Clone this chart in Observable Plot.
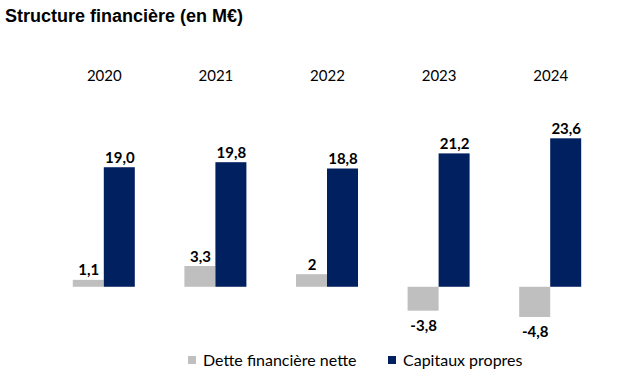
<!DOCTYPE html>
<html><head><meta charset="utf-8">
<script src="https://cdn.jsdelivr.net/npm/d3@7"></script>
<script src="https://cdn.jsdelivr.net/npm/@observablehq/plot@0.6"></script>
<style>
body{margin:0;background:#fff;width:640px;height:381px;position:relative;overflow:hidden}
#title{position:absolute;left:5px;top:6px;font:bold 18px "Liberation Sans",Arial,sans-serif;color:#000;white-space:nowrap}
#chart{position:absolute;left:0;top:30px}
.sw{position:absolute;width:8px;height:8px;top:356px}
.lt{position:absolute;top:350px;font:16px Lato,sans-serif;line-height:19px;color:#000;white-space:nowrap}
</style></head>
<body>
<div id="title">Structure financière (en M€)</div>
<div id="chart"></div>
<div id="legend"></div>
<script>
const years = ["2020","2021","2022","2023","2024"];
const series = ["Dette financière nette","Capitaux propres"];
const dette = [1.1, 3.3, 2, -3.8, -4.8];
const capitaux = [19.0, 19.8, 18.8, 21.2, 23.6];
const colors = ["#BFBFBF","#002060"];

const fmtD = v => String(v).replace(".", ",");
const fmtC = v => v.toFixed(1).replace(".", ",");
const data = [];
years.forEach((y,i)=>{
  data.push({year:y, series:series[0], value:dette[i], label:fmtD(dette[i])});
  data.push({year:y, series:series[1], value:capitaux[i], label:fmtC(capitaux[i])});
});

const chart = Plot.plot({
  width:640, height:310,
  marginTop:93.2, marginBottom:2.9, marginLeft:48, marginRight:34,
  style:{fontFamily:"Lato, sans-serif", fontSize:"15px", background:"#fff"},
  fx:{domain:years, padding:0, round:false, axis:null},
  x:{domain:series, paddingInner:0, paddingOuter:0.8, round:false, axis:null},
  y:{domain:[-8,26], axis:null},
  color:{domain:series, range:colors},
  marks:[
    Plot.barY(data,{fx:"year", x:"series", y:"value", fill:"series"}),
    Plot.text(data.filter(d=>d.value>=0),{fx:"year", x:"series", y:"value", text:"label", lineAnchor:"bottom", dy:-5, fontWeight:"bold", fontSize:15, fill:"#000"}),
    Plot.text(data.filter(d=>d.value<0),{fx:"year", x:"series", y:"value", text:"label", lineAnchor:"top", dy:9, fontWeight:"bold", fontSize:15, fill:"#000"}),
    Plot.text(years,{fx:d=>d, text:d=>d, frameAnchor:"top", lineAnchor:"middle", dy:-48, fontSize:15, fill:"#000"})
  ]
});
document.getElementById("chart").appendChild(chart);

const lg = document.getElementById("legend");
const pos = [[188,203],[388,403]];
series.forEach((s,i)=>{
  const sw = document.createElement("div"); sw.className="sw"; sw.style.left=pos[i][0]+"px"; sw.style.background=colors[i]; lg.appendChild(sw);
  const t = document.createElement("div"); t.className="lt"; t.style.left=pos[i][1]+"px"; t.textContent=s; lg.appendChild(t);
});
</script>
</body></html>
